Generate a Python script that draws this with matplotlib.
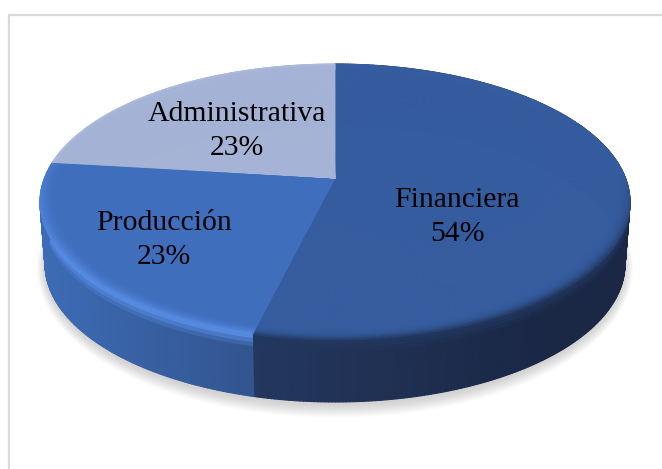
import numpy as np
import matplotlib
matplotlib.use('Agg')
import matplotlib.pyplot as plt
from matplotlib.collections import PolyCollection
from matplotlib.colors import to_rgb

labels = ['Financiera', 'Administrativa', 'Producción']
values = [53.8, 23.1, 23.1]
# drawing order clockwise from 12 o'clock: Financiera, Produccion, Administrativa
order = [0, 2, 1]
top_colors = {'Financiera': '#355c9f', 'Producción': '#3f6ebd', 'Administrativa': '#a5b3d6'}
wall_left = {'Financiera': '#24385f', 'Producción': '#3d6cb6', 'Administrativa': '#7f8fb5'}
wall_right = {'Financiera': '#1a2745', 'Producción': '#32558f', 'Administrativa': '#7f8fb5'}
rim_colors = {'Financiera': '#22375f', 'Producción': '#5a90ea', 'Administrativa': '#b6c3e2'}
label_pos = {'Financiera': (457, 217), 'Producción': (164, 240), 'Administrativa': (237, 131)}

cx, cy = 335, 178
a, b, k = 290.5, 133.8, 0.174
depth = 62


def project(r, t):
    # t is clockwise from the top, perspective view of the round pie
    xx = r * np.sin(t)
    yy = r * np.cos(t)
    d = 1 + k * yy
    return cx + a * xx / d, cy - b * yy / d


def mix(c1, c2, f):
    c1, c2 = np.array(to_rgb(c1)), np.array(to_rgb(c2))
    return tuple(c1 + (c2 - c1) * np.clip(f, 0, 1))


fig = plt.figure(figsize=(6.62, 4.69), dpi=100)
ax = fig.add_axes([0, 0, 1, 1])
ax.set_xlim(0, 662)
ax.set_ylim(469, 0)
ax.axis('off')

# chart frame
ax.plot([9, 9, 665], [475, 15, 15], color='#d9d9d9', lw=1.6, zorder=1)

# soft shadow under the pie
tt = np.linspace(0, 2 * np.pi, 300)
for i in range(12):
    grow = 12 - i
    px, py = project(1, tt)
    sx = cx + (px - cx) * (0.98 + grow * 0.0025)
    sy = cy + depth + 2 + (py - cy) * (1 + grow * 0.007)
    ax.fill(sx, sy, color='#808080', alpha=0.03, lw=0, zorder=2)

rings = np.concatenate([np.linspace(0, 0.94, 4), np.linspace(0.95, 1, 10)])
polys, cols = [], []
wpolys, wcols = [], []
start = 0.0
total = sum(values)
for idx in order:
    name = labels[idx]
    end = start + values[idx] / total * 2 * np.pi
    th = np.linspace(start, end, int(values[idx] * 6) + 2)
    base = top_colors[name]
    rim = rim_colors[name]
    # wall strips
    ss = np.linspace(0, 1, 16)
    for t0, t1 in zip(th[:-1], th[1:]):
        for s0, s1 in zip(ss[:-1], ss[1:]):
            pts = []
            for t, s in ((t0, s0), (t1, s0), (t1, s1), (t0, s1)):
                px, py = project(1, t)
                pts.append((cx + (px - cx) * (1 - 0.017 * s), py + depth * s))
            pos = (pts[0][0] - 40) / 590
            wall = mix(wall_left[name], wall_right[name], pos / 0.36 if name == 'Producción' else (pos - 0.35) / 0.5)
            wcols.append(mix(rim, wall, (s0 + 0.03) / 0.22))
            wpolys.append(pts)
    # top surface, with the bevel near the edge on the front side
    for t0, t1 in zip(th[:-1], th[1:]):
        tm = (t0 + t1) / 2
        front = np.clip((0.05 - np.cos(tm)) / 0.6, 0, 1)
        for r0, r1 in zip(rings[:-1], rings[1:]):
            pts = []
            for t, r in ((t0, r0), (t1, r0), (t1, r1), (t0, r1)):
                pts.append(project(r, t))
            f = np.clip((r0 - 0.94) / 0.06, 0, 1)
            if name == 'Administrativa':
                f = np.clip((r0 - 0.985) / 0.015, 0, 1) * 0.6
            elif name == 'Producción':
                f = f * f * (0.35 + 0.65 * front)
            else:
                f = f * f * f * front
            polys.append(pts)
            cols.append(mix(base, rim, f))
    start = end

wall_art = PolyCollection(wpolys, facecolors=wcols, edgecolors=wcols, linewidths=0.8, zorder=3)
ax.add_collection(wall_art)
top_art = PolyCollection(polys, facecolors=cols, edgecolors=cols, linewidths=0.6, zorder=4)
ax.add_collection(top_art)

# data labels
pct = dict(zip(labels, values))
for name in labels:
    x, y = label_pos[name]
    ax.text(x, y, f'{name}\n{pct[name]:.0f}%', ha='center', va='center', family='Liberation Serif',
            fontsize=21.4, color='black', linespacing=1.38, zorder=5)

fig.savefig('out.png', dpi=100)
